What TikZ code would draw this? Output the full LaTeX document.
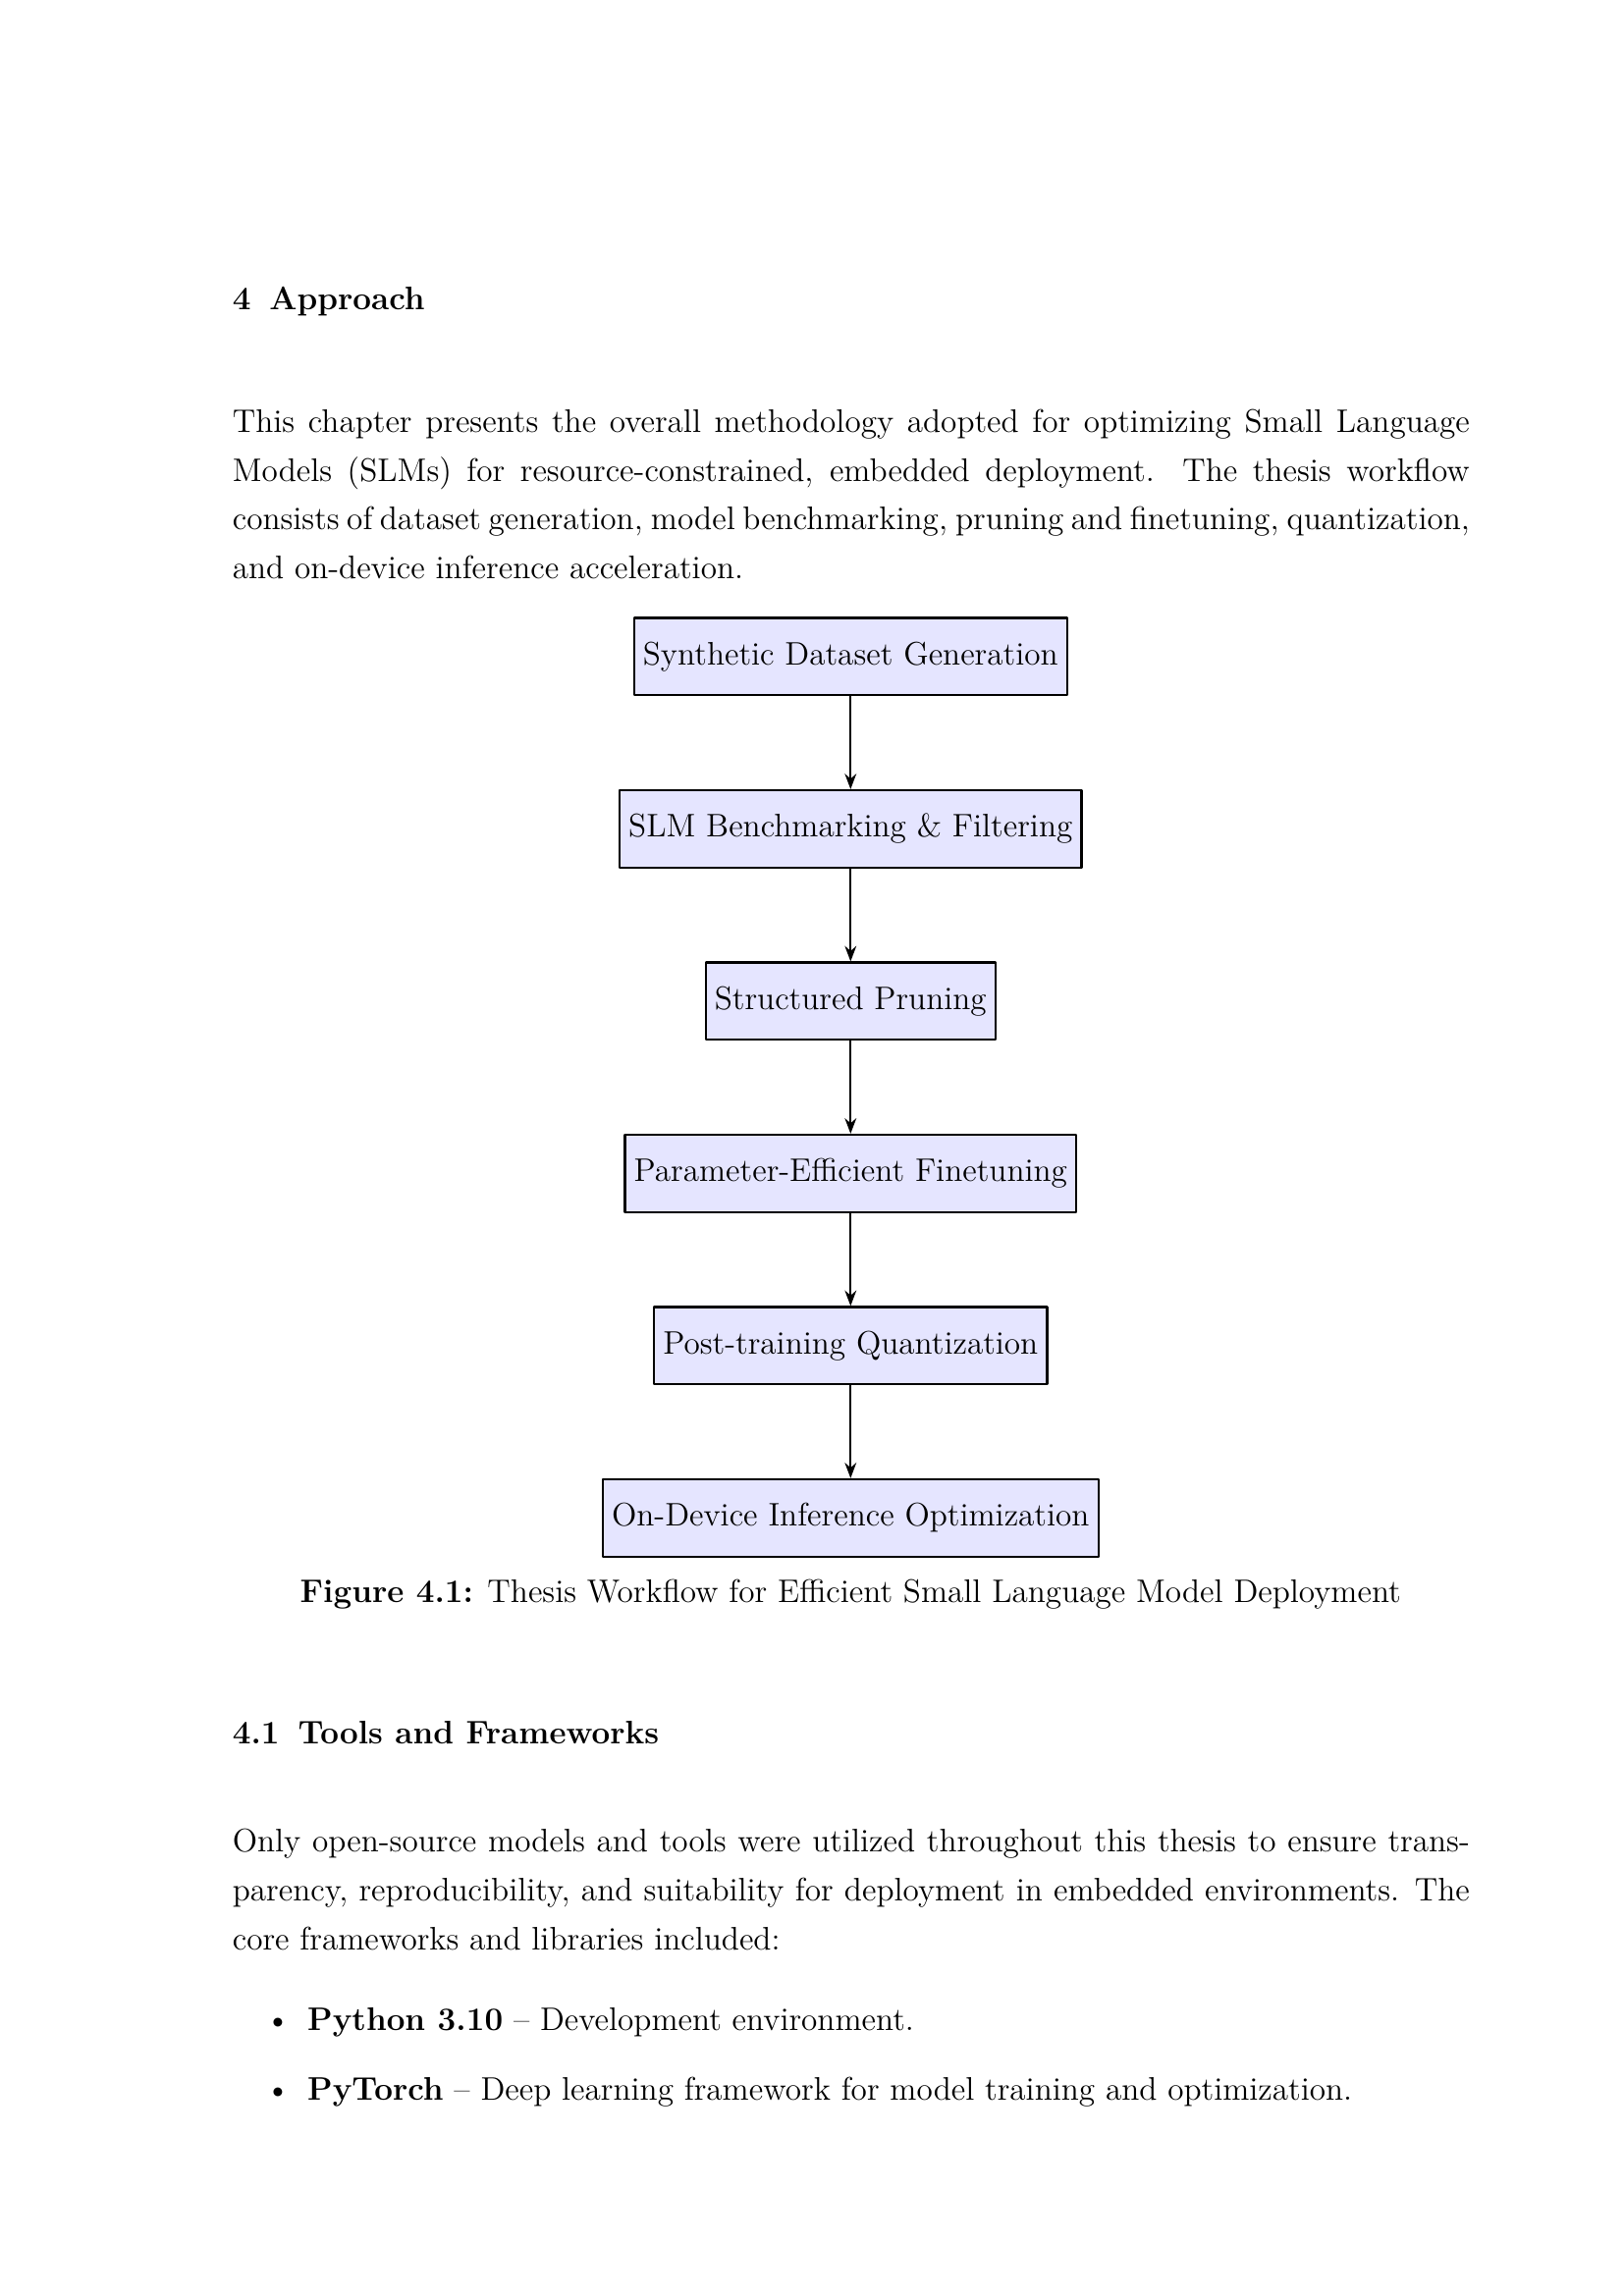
\documentclass[tikz,border=0pt]{standalone}
\usepackage{tikz}
\usetikzlibrary{arrows.meta,positioning}
\definecolor{eeeeff}{rgb}{0.9,0.9,1}
\definecolor{qqqqqq}{rgb}{0,0,0}

\begin{document}
\begin{tikzpicture}[line cap=round,line join=round,>={Stealth},x=1mm,y=1mm,
	every node/.style={font=\fontsize{12}{18}\selectfont},
	stage/.style={draw=qqqqqq,thick,fill=eeeeff,minimum height=1cm},
	flow/.style={->,semithick,color=qqqqqq},
	para/.style={anchor=base west,inner sep=0pt,text width=160mm,align=justify},
	head/.style={anchor=base west,inner sep=0pt,font=\fontsize{12}{18}\selectfont\bfseries}]
	\useasboundingbox[fill=white] (0,0) rectangle (210,-297);
	% chapter text
	\node[head] (sec) at (30,-40.1) {4\hspace{0.57em}Approach};
	\node[para] (intro) at (30,-55.9) {This chapter presents the overall methodology adopted for optimizing Small Language Models (SLMs) for resource-constrained, embedded deployment. The thesis workflow consists of dataset generation, model benchmarking, pruning and finetuning, quantization, and on-device inference acceleration.};
	% workflow
	\node[stage,anchor=north] (gen) at (110,-79.8) {Synthetic Dataset Generation};
	\node[stage,below=1.2cm of gen] (bench) {SLM Benchmarking \& Filtering};
	\node[stage,below=1.2cm of bench] (prune) {Structured Pruning};
	\node[stage,below=1.2cm of prune] (peft) {Parameter-Efficient Finetuning};
	\node[stage,below=1.2cm of peft] (ptq) {Post-training Quantization};
	\node[stage,below=1.2cm of ptq] (infer) {On-Device Inference Optimization};
	\draw[flow] (gen) -- (bench);
	\draw[flow] (bench) -- (prune);
	\draw[flow] (prune) -- (peft);
	\draw[flow] (peft) -- (ptq);
	\draw[flow] (ptq) -- (infer);
	\node[anchor=base,inner sep=0pt] (cap) at (110,-207.3) {\textbf{Figure 4.1:} Thesis Workflow for Efficient Small Language Model Deployment};
	% section 4.1
	\node[head] (subsec) at (30,-225.6) {4.1\hspace{0.57em}Tools and Frameworks};
	\node[para] (tools) at (30,-239.6) {Only open-source models and tools were utilized throughout this thesis to ensure transparency, reproducibility, and suitability for deployment in embedded environments. The core frameworks and libraries included:};
	\node[anchor=base east,inner sep=0pt] (dot1) at (37.6,-262.6) {\textbullet};
	\node[anchor=base west,inner sep=0pt] (item1) at (39.7,-262.6) {\textbf{Python 3.10} -- Development environment.};
	\node[anchor=base east,inner sep=0pt] (dot2) at (37.6,-271.7) {\textbullet};
	\node[anchor=base west,inner sep=0pt] (item2) at (39.7,-271.7) {\textbf{PyTorch} -- Deep learning framework for model training and optimization.};
\end{tikzpicture}
\end{document}
